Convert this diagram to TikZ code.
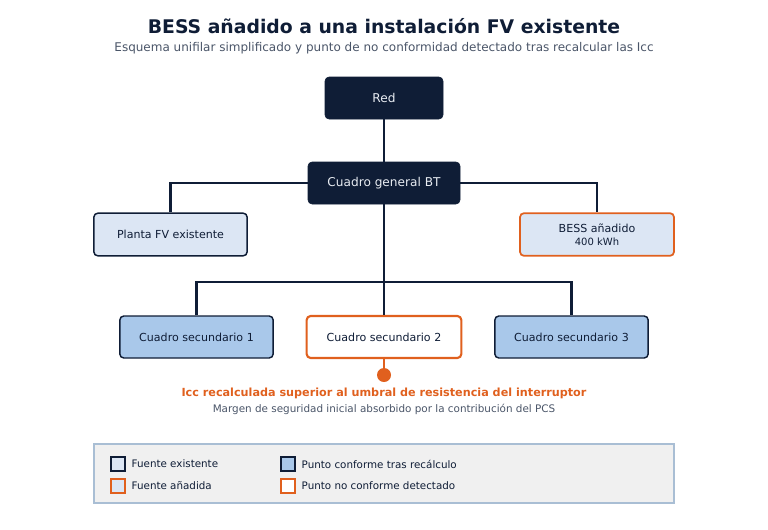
\documentclass[tikz,border=0pt]{standalone}
\usepackage{fontspec}
\setmainfont{DejaVu Sans}
\definecolor{navy}{HTML}{0F1D36}
\definecolor{lightfill}{HTML}{DCE6F4}
\definecolor{midfill}{HTML}{A9C8EA}
\definecolor{alertorange}{HTML}{E0601E}
\definecolor{subgray}{HTML}{4A5568}
\definecolor{legfill}{HTML}{F0F0F0}
\definecolor{legline}{HTML}{A9BED4}
\definecolor{paletext}{HTML}{E8ECF2}
\tikzset{
  basebox/.style={rounded corners=3pt, minimum height=31.5pt, align=center,
    text=navy, font=\fontsize{8.3}{10}\selectfont},
  darkbox/.style={basebox, fill=navy, draw=navy, text=paletext, font=\fontsize{9.1}{11}\selectfont},
  srcbox/.style={basebox, fill=lightfill, draw=navy, line width=1.1pt, minimum height=32pt},
  addbox/.style={basebox, fill=lightfill, draw=alertorange, line width=1.3pt, minimum height=32pt},
  okbox/.style={basebox, fill=midfill, draw=navy, line width=1.1pt},
  nokbox/.style={basebox, fill=white, draw=alertorange, line width=1.6pt},
  wire/.style={draw=navy, line width=1.9pt},
  swatch/.style={minimum size=10.5pt, inner sep=0pt},
  legtext/.style={anchor=west, text=navy, font=\fontsize{7.75}{9.5}\selectfont}
}
\begin{document}
\begin{tikzpicture}[x=0.75pt,y=-0.75pt]
    \useasboundingbox (0,0) rectangle (768,529);
    % titulo
    \node[text=navy, font=\fontsize{14.1}{17}\selectfont\bfseries] (title) at (384,26.5) {BESS añadido a una instalación FV existente};
    \node[text=subgray, font=\fontsize{9}{11}\selectfont] (subtitle) at (384,48.5) {Esquema unifilar simplificado y punto de no conformidad detectado tras recalcular las Icc};
    % nodos
    \node[darkbox, minimum width=88.5pt] (red) at (384,98) {Red};
    \node[darkbox, minimum width=114pt] (cgbt) at (384,183) {Cuadro general BT};
    \node[srcbox, minimum width=115pt] (fv) at (170.5,234.5) {Planta FV existente};
    \node[addbox, minimum width=115.5pt] (bess) at (597,234.5) {BESS añadido\\{\fontsize{7.5}{9.5}\selectfont 400 kWh}};
    \node[okbox, minimum width=115pt] (cs1) at (196.5,337) {Cuadro secundario 1};
    \node[nokbox, minimum width=116pt] (cs2) at (384,337) {Cuadro secundario 2};
    \node[okbox, minimum width=115pt] (cs3) at (571.5,337) {Cuadro secundario 3};
    \coordinate (bus) at (384,282);
    % conexiones
    \draw[wire] (red) -- (cgbt);
    \draw[wire] (cgbt.west) -| (fv.north);
    \draw[wire] (cgbt.east) -| (bess.north);
    \draw[wire] (cgbt) -- (cs2);
    \draw[wire] (cs1.north) |- (bus) -| (cs3.north);
    % punto no conforme
    \node[circle, fill=alertorange, minimum size=10.5pt, inner sep=0pt] (fault) at (384,375) {};
    \draw[draw=alertorange, line width=1.8pt] (cs2) -- (fault);
    \node[text=alertorange, font=\fontsize{8.4}{10}\selectfont\bfseries] (warn) at (384,393) {Icc recalculada superior al umbral de resistencia del interruptor};
    \node[text=subgray, font=\fontsize{7.8}{9.5}\selectfont] (note) at (384,409) {Margen de seguridad inicial absorbido por la contribución del PCS};
    % leyenda
    \node[draw=legline, fill=legfill, line width=0.8pt, minimum width=435pt, minimum height=44.25pt, inner sep=0pt] (legend) at (384,473.5) {};
    \node[swatch, fill=lightfill, draw=navy, line width=0.8pt] (swA) at (118,464) {};
    \node[legtext] (lgA) at (127,464) {Fuente existente};
    \node[swatch, fill=lightfill, draw=alertorange, line width=1.3pt] (swB) at (118,486) {};
    \node[legtext] (lgB) at (127,486) {Fuente añadida};
    \node[swatch, fill=midfill, draw=navy, line width=0.8pt] (swC) at (288,464) {};
    \node[legtext] (lgC) at (297,464) {Punto conforme tras recálculo};
    \node[swatch, fill=white, draw=alertorange, line width=1.8pt] (swD) at (288,486) {};
    \node[legtext] (lgD) at (297,486) {Punto no conforme detectado};
\end{tikzpicture}
\end{document}
